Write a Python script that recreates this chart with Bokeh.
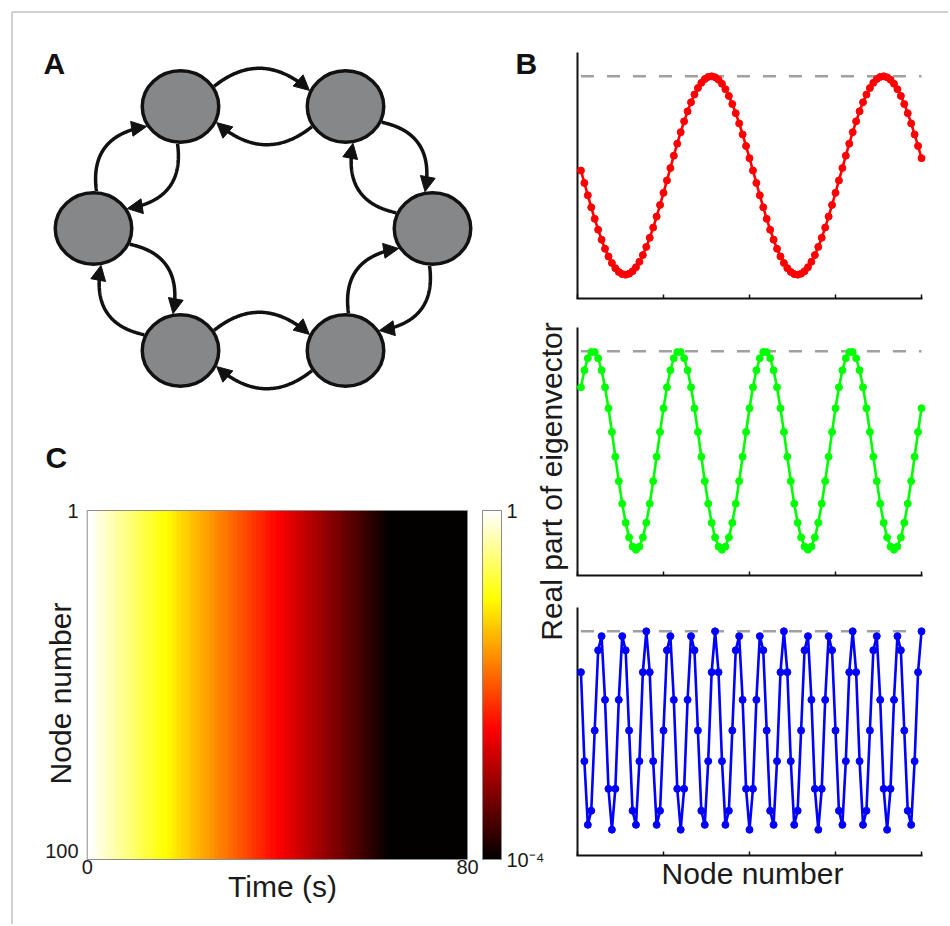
import numpy as np
from bokeh.plotting import figure
from bokeh.models import (Range1d, ColumnDataSource, Arrow, NormalHead, LogColorMapper,
                          ColorBar, FixedTicker, CustomJSTickFormatter)
from bokeh.core.properties import value
from bokeh.embed import file_html
from bokeh.resources import INLINE

FONT = "Liberation Sans"
INK = "#1a1a1a"

# ---------------- Panel A: ring network (diagram, page-pixel coordinates) ----------------
node_x = [180, 345, 432, 345, 180, 93]
node_y = [106, 106, 228, 350, 350, 228]

# ---------------- Panel B: real part of eigenvectors ----------------
node_index = list(range(1, 101))
mode2_real = [
    0.050, -0.075, -0.200, -0.321, -0.437, -0.546, -0.647, -0.738, -0.816, -0.882,
    -0.934, -0.972, -0.994, -1.000, -0.990, -0.965, -0.925, -0.870, -0.802, -0.720,
    -0.628, -0.525, -0.414, -0.297, -0.175, -0.050, 0.075, 0.200, 0.321, 0.437,
    0.546, 0.647, 0.738, 0.816, 0.882, 0.934, 0.972, 0.994, 1.000, 0.990,
    0.965, 0.925, 0.870, 0.802, 0.720, 0.628, 0.525, 0.414, 0.297, 0.175,
    0.050, -0.075, -0.200, -0.321, -0.437, -0.546, -0.647, -0.738, -0.816, -0.882,
    -0.934, -0.972, -0.994, -1.000, -0.990, -0.965, -0.925, -0.870, -0.802, -0.720,
    -0.628, -0.525, -0.414, -0.297, -0.175, -0.050, 0.075, 0.200, 0.321, 0.437,
    0.546, 0.647, 0.738, 0.816, 0.882, 0.934, 0.972, 0.994, 1.000, 0.990,
    0.965, 0.925, 0.870, 0.802, 0.720, 0.628, 0.525, 0.414, 0.297, 0.175]
mode4_real = [
    0.637, 0.809, 0.930, 0.992, 0.992, 0.930, 0.809, 0.637, 0.426, 0.187,
    -0.063, -0.309, -0.536, -0.729, -0.876, -0.969, -1.000, -0.969, -0.876, -0.729,
    -0.536, -0.309, -0.063, 0.187, 0.426,
    0.637, 0.809, 0.930, 0.992, 0.992, 0.930, 0.809, 0.637, 0.426, 0.187,
    -0.063, -0.309, -0.536, -0.729, -0.876, -0.969, -1.000, -0.969, -0.876, -0.729,
    -0.536, -0.309, -0.063, 0.187, 0.426,
    0.637, 0.809, 0.930, 0.992, 0.992, 0.930, 0.809, 0.637, 0.426, 0.187,
    -0.063, -0.309, -0.536, -0.729, -0.876, -0.969, -1.000, -0.969, -0.876, -0.729,
    -0.536, -0.309, -0.063, 0.187, 0.426,
    0.637, 0.809, 0.930, 0.992, 0.992, 0.930, 0.809, 0.637, 0.426, 0.187,
    -0.063, -0.309, -0.536, -0.729, -0.876, -0.969, -1.000, -0.969, -0.876, -0.729,
    -0.536, -0.309, -0.063, 0.187, 0.426]
mode15_real = [
    0.588, -0.309, -0.951, -0.809, 0.000, 0.809, 0.951, 0.309, -0.588, -1.000,
    -0.588, 0.309, 0.951, 0.809, 0.000, -0.809, -0.951, -0.309, 0.588, 1.000,
    0.588, -0.309, -0.951, -0.809, 0.000, 0.809, 0.951, 0.309, -0.588, -1.000,
    -0.588, 0.309, 0.951, 0.809, 0.000, -0.809, -0.951, -0.309, 0.588, 1.000,
    0.588, -0.309, -0.951, -0.809, 0.000, 0.809, 0.951, 0.309, -0.588, -1.000,
    -0.588, 0.309, 0.951, 0.809, 0.000, -0.809, -0.951, -0.309, 0.588, 1.000,
    0.588, -0.309, -0.951, -0.809, 0.000, 0.809, 0.951, 0.309, -0.588, -1.000,
    -0.588, 0.309, 0.951, 0.809, 0.000, -0.809, -0.951, -0.309, 0.588, 1.000,
    0.588, -0.309, -0.951, -0.809, 0.000, 0.809, 0.951, 0.309, -0.588, -1.000,
    -0.588, 0.309, 0.951, 0.809, 0.000, -0.809, -0.951, -0.309, 0.588, 1.000]
reference_level = 1.0
b_xlim = [0, 100]
b_ticks = [0, 25, 50, 75, 100]
b1_ylim = [-1.24, 1.24]
b2_ylim = [-1.26, 1.24]
b3_ylim = [-1.26, 1.24]

# ---------------- Panel C: activity heat map ----------------
time_s = list(range(0, 81))
log10_activity = [
    0.00, -0.06, -0.13, -0.19, -0.25, -0.31, -0.38, -0.44, -0.50, -0.56,
    -0.63, -0.69, -0.75, -0.81, -0.88, -0.94, -1.00, -1.06, -1.13, -1.19,
    -1.25, -1.31, -1.38, -1.44, -1.50, -1.56, -1.63, -1.69, -1.75, -1.81,
    -1.88, -1.94, -2.00, -2.06, -2.13, -2.19, -2.25, -2.31, -2.38, -2.44,
    -2.50, -2.56, -2.63, -2.69, -2.75, -2.81, -2.88, -2.94, -3.00, -3.06,
    -3.13, -3.19, -3.25, -3.31, -3.38, -3.44, -3.50, -3.56, -3.63, -3.69,
    -3.75, -3.81, -3.88, -3.94, -4.00, -4.00, -4.00, -4.00, -4.00, -4.00,
    -4.00, -4.00, -4.00, -4.00, -4.00, -4.00, -4.00, -4.00, -4.00, -4.00, -4.00]
n_nodes = 100
time_ticks = [0, 80]
node_ticks = [1, 100]
node_lim = [1.0, 102.6]
cbar_ticks = [1e-4, 1.0]

# ---------------- layout (page pixels; the canvas starts at the page corner) ----------------
PX0, PX1, PY0, PY1 = 0, 948, 0, 924
B_BOX_X = (577, 921)
B1_BOX_Y = (52, 298)
B2_BOX_Y = (327, 575)
B3_BOX_Y = (607, 855)
C_BOX_X = (86.7, 467)
C_BOX_Y = (510, 859)


def xfit(v0, p0, v1, p1):
    k = (v1 - v0) / (p1 - p0)
    return Range1d(v0 + (PX0 - p0) * k, v0 + (PX1 - p0) * k)


def yfit(v_top, p_top, v_bot, p_bot):
    k = (v_bot - v_top) / (p_bot - p_top)
    return Range1d(v_top + (PY1 - p_top) * k, v_top + (PY0 - p_top) * k)


def hot_palette(m=256):
    n = int(3 * m / 8)
    cols = []
    for i in range(m):
        r = min(1.0, (i + 1) / n)
        g = 0.0 if i < n else min(1.0, (i - n + 1) / n)
        b = 0.0 if i < 2 * n else (i - 2 * n + 1) / (m - 2 * n)
        cols.append("#%02x%02x%02x" % (int(round(r * 255)), int(round(g * 255)), int(round(b * 255))))
    return cols


p = figure(width=PX1 - PX0, height=PY1 - PY0, x_range=Range1d(PX0, PX1), y_range=Range1d(PY1, PY0),
           output_backend="svg", toolbar_location=None, x_axis_type=None, y_axis_type=None,
           min_border=0, min_border_left=0, min_border_right=0, min_border_top=0,
           min_border_bottom=0)
p.outline_line_color = None
p.background_fill_color = "white"
p.border_fill_color = "white"

p.extra_x_ranges = {
    "bx": xfit(b_xlim[0], B_BOX_X[0], b_xlim[1], B_BOX_X[1]),
    "cx": xfit(time_ticks[0], C_BOX_X[0], time_ticks[1], C_BOX_X[1]),
}
p.extra_y_ranges = {
    "b1": yfit(b1_ylim[1], B1_BOX_Y[0], b1_ylim[0], B1_BOX_Y[1]),
    "b2": yfit(b2_ylim[1], B2_BOX_Y[0], b2_ylim[0], B2_BOX_Y[1]),
    "b3": yfit(b3_ylim[1], B3_BOX_Y[0], b3_ylim[0], B3_BOX_Y[1]),
    "cy": yfit(node_lim[0], C_BOX_Y[0], node_lim[1], C_BOX_Y[1]),
}

# frame lines of the figure sheet
p.line([11.5, PX1], [11.5, 11.5], line_color="#a3a3a3", line_width=1)
p.line([11.5, 11.5], [11.5, PY1], line_color="#a3a3a3", line_width=1)

# ================= Panel A =================
RX, RY = 40.0, 37.5
nx = np.array(node_x, float)
ny = np.array(node_y, float)
ring_c = np.array([nx.mean(), ny.mean()])


def rim(c, u):
    r = 1.0 / np.sqrt((u[0] / RX) ** 2 + (u[1] / RY) ** 2)
    return c + u * r


a_s, a_e, H = np.radians(31), np.radians(24), 40.0
cxs, cys = [], []
hx0, hy0, hx1, hy1 = [], [], [], []
for i in range(len(node_x)):
    j = (i + 1) % len(node_x)
    A = np.array([nx[i], ny[i]])
    B = np.array([nx[j], ny[j]])
    d = (B - A) / np.linalg.norm(B - A)
    nrm = np.array([d[1], -d[0]])
    if np.dot(nrm, (A + B) / 2 - ring_c) < 0:
        nrm = -nrm
    for S, D, side in ((A, B, 1.0), (B, A, -1.0)):
        dd = (D - S) / np.linalg.norm(D - S)
        nn = nrm * side
        u0 = np.cos(a_s) * dd + np.sin(a_s) * nn
        u2 = -np.cos(a_e) * dd + np.sin(a_e) * nn
        P0 = rim(S, u0)
        P2 = rim(D, u2)
        P1 = (P0 + P2) / 2 + nn * H
        tan = (P2 - P1) / np.linalg.norm(P2 - P1)
        t = np.linspace(0, 1, 90)[:, None]
        pts = (1 - t) ** 2 * P0 + 2 * (1 - t) * t * P1 + t ** 2 * P2
        keep = np.linalg.norm(pts - P2, axis=1) > 9
        cxs.append(pts[keep, 0].tolist())
        cys.append(pts[keep, 1].tolist())
        hx0.append(P2[0] - tan[0] * 12)
        hy0.append(P2[1] - tan[1] * 12)
        hx1.append(P2[0])
        hy1.append(P2[1])

p.ellipse(x=node_x, y=node_y, width=2 * RX - 3.5, height=2 * RY - 3.5,
          fill_color="#868789", line_color="#111111", line_width=3.5)
p.multi_line(xs=cxs, ys=cys, line_color="#111111", line_width=3.5)
head_src = ColumnDataSource(dict(x0=hx0, y0=hy0, x1=hx1, y1=hy1))
p.add_layout(Arrow(end=NormalHead(size=15, fill_color="#111111", line_color="#111111", line_width=1),
                   x_start="x0", y_start="y0", x_end="x1", y_end="y1", source=head_src,
                   line_color="#111111", line_width=3.5))

# panel letters (y = visual centre of the capitals)
p.text(x=[43, 515, 45], y=[62.5, 63, 456.5], text=["A", "B", "C"], text_font=value(FONT),
       text_font_style="bold", text_font_size="30px", text_color="#111111",
       text_baseline="middle", text_align="left")

# ================= Panel B =================
panels = [(mode2_real, "#ff0000", "b1", b1_ylim, B1_BOX_Y),
          (mode4_real, "#00ff00", "b2", b2_ylim, B2_BOX_Y),
          (mode15_real, "#0000ff", "b3", b3_ylim, B3_BOX_Y)]
for vals, color, yname, ylim, box in panels:
    px_per_unit = (box[1] - box[0]) / (ylim[1] - ylim[0])
    tick_len = 4.0 / px_per_unit
    kw = dict(x_range_name="bx", y_range_name=yname)
    p.line([node_index[0], node_index[-1]], [reference_level, reference_level],
           line_color="#a0a0a0", line_width=2.5, line_dash="13 13", **kw)
    # axes
    p.line([b_xlim[0], b_xlim[0]], [ylim[0], ylim[1]], line_color="#111111", line_width=2, **kw)
    p.line([b_xlim[0], b_xlim[1]], [ylim[0], ylim[0]], line_color="#111111", line_width=2,
           line_cap="square", **kw)
    p.segment(x0=b_ticks, y0=[ylim[0]] * len(b_ticks), x1=b_ticks,
              y1=[ylim[0] + tick_len] * len(b_ticks), line_color="#111111", line_width=1.5, **kw)
    # data
    p.line(node_index, vals, line_color=color, line_width=2.6, **kw)
    p.scatter(node_index, vals, size=7, fill_color=color, line_color=color, **kw)

p.text(x=[752], y=[873], text=["Node number"], text_font=value(FONT), text_font_size="30px",
       text_color=INK, text_align="center", text_baseline="middle")
p.text(x=[551], y=[481], text=["Real part of eigenvector"], angle=np.pi / 2,
       text_font=value(FONT), text_font_size="30px", text_color=INK,
       text_align="center", text_baseline="middle")

# ================= Panel C =================
hot = hot_palette()
mapper = LogColorMapper(palette=hot, low=cbar_ticks[0], high=cbar_ticks[1])
img = np.tile(10.0 ** np.array(log10_activity), (n_nodes, 1))
p.image(image=[img], x=time_ticks[0], y=node_lim[0], dw=time_ticks[1] - time_ticks[0],
        dh=node_lim[1] - node_lim[0], color_mapper=mapper, x_range_name="cx", y_range_name="cy")
p.quad(left=[time_ticks[0]], right=[time_ticks[1]], top=[node_lim[0]], bottom=[node_lim[1]],
       fill_color=None, line_color="#8c8c8c", line_width=1, x_range_name="cx", y_range_name="cy")

# tick labels
p.text(x=time_ticks, y=[859, 859], text=[str(v) for v in time_ticks], x_range_name="cx",
       text_font=value(FONT), text_font_size="20px", text_color=INK,
       text_align="center", text_baseline="top")
p.text(x=[78, 78], y=node_ticks, text=[str(v) for v in node_ticks], y_range_name="cy",
       text_font=value(FONT), text_font_size="20px", text_color=INK,
       text_align="right", text_baseline="middle")
# axis titles
p.text(x=[282], y=[886], text=["Time (s)"], text_font=value(FONT), text_font_size="30px",
       text_color=INK, text_align="center", text_baseline="middle")
p.text(x=[60], y=[693], text=["Node number"], angle=np.pi / 2, text_font=value(FONT),
       text_font_size="30px", text_color=INK, text_align="center", text_baseline="middle")

cb = ColorBar(color_mapper=mapper, ticker=FixedTicker(ticks=cbar_ticks),
              formatter=CustomJSTickFormatter(code="return tick > 0.5 ? '1' : '10\u207b\u2074'"),
              width=19, height=349, padding=0, margin=0, location=(482 - PX0, PY1 - 859),
              label_standoff=5, major_label_text_font=FONT, major_label_text_font_size="20px",
              major_label_text_color=INK, major_tick_line_color=None,
              minor_tick_line_color=None, bar_line_color="#8c8c8c",
              border_line_color=None, background_fill_color=None)
p.add_layout(cb)

open("out.html", "w").write(file_html(p, INLINE))
